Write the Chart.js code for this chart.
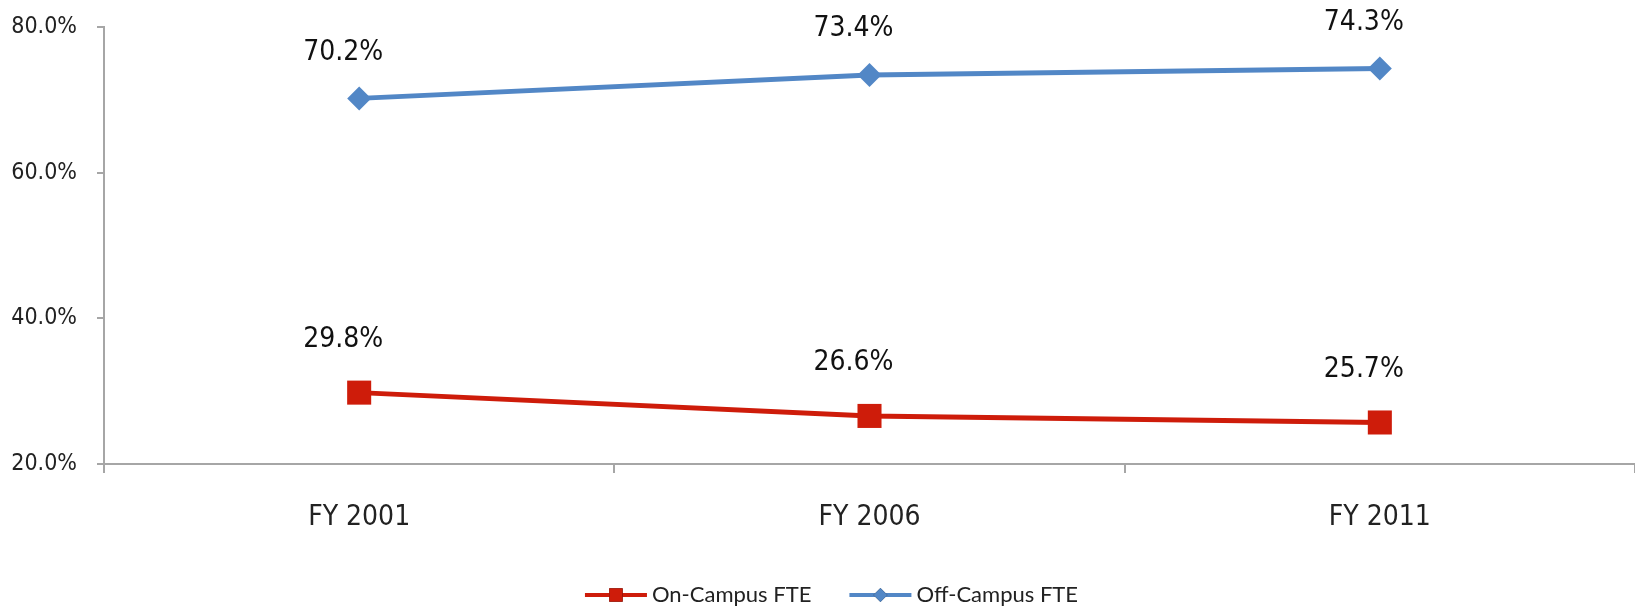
<!DOCTYPE html>
<html>
<head>
<meta charset="utf-8">
<script src="https://cdn.jsdelivr.net/npm/chart.js@4/dist/chart.umd.min.js"></script>
<style>
  html, body { margin: 0; padding: 0; background: #ffffff; }
  #wrap { width: 1635px; height: 609px; }
</style>
</head>
<body>
<div id="wrap"><canvas id="c" width="1635" height="609"></canvas></div>
<script>
// ---- data ----
const categories = ['FY 2001', 'FY 2006', 'FY 2011'];
const onCampus = [29.8, 26.6, 25.7];
const offCampus = [70.2, 73.4, 74.3];
const seriesNames = ['On-Campus FTE', 'Off-Campus FTE'];
const yTicks = [20, 40, 60, 80];

// ---- styles ----
const RED = '#CE1C0A';
const BLUE = '#5287C6';
const AXIS = '#A6A6A6';
const NARROW = "'Liberation Sans Narrow', 'Arial Narrow', 'DejaVu Sans Condensed', 'Open Sans', sans-serif";
const LEGEND_FONT = "Lato, 'Open Sans', sans-serif";

const dataLabelPlugin = {
  id: 'dataLabels',
  afterDatasetsDraw(chart) {
    const ctx = chart.ctx;
    ctx.save();
    ctx.font = '28px ' + NARROW;
    ctx.fillStyle = '#111111';
    ctx.textAlign = 'center';
    ctx.textBaseline = 'middle';
    chart.data.datasets.forEach((ds, i) => {
      const meta = chart.getDatasetMeta(i);
      const dy = ds.labelLift;
      meta.data.forEach((pt, j) => {
        const v = ds.data[j];
        ctx.fillText(v.toFixed(1) + '%', pt.x - 16, pt.y - dy);
      });
    });
    ctx.restore();
  }
};

const legendPlugin = {
  id: 'customLegend',
  afterDraw(chart) {
    const ctx = chart.ctx;
    ctx.save();
    ctx.font = '22px ' + LEGEND_FONT;
    ctx.textBaseline = 'middle';
    const lineW = 62, gapText = 5, gapItem = 38;
    const items = chart.data.datasets.map(ds => ({
      ds, tw: ctx.measureText(ds.label).width
    }));
    let total = 0;
    items.forEach((it, i) => { total += lineW + gapText + it.tw + (i < items.length - 1 ? gapItem : 0); });
    let x = chart.width / 2 + 14 - total / 2;
    const y = 595;
    items.forEach(it => {
      const ds = it.ds;
      ctx.strokeStyle = ds.borderColor;
      ctx.lineWidth = 4;
      ctx.beginPath();
      ctx.moveTo(x, y);
      ctx.lineTo(x + lineW, y);
      ctx.stroke();
      Chart.helpers.drawPoint(ctx, {
        pointStyle: ds.pointStyle,
        radius: ds.pointStyle === 'rect' ? 9.5 : 7,
        borderWidth: 0,
        rotation: 0
      }, x + lineW / 2, y);
      ctx.fillStyle = ds.borderColor;
      ctx.fill();
      ctx.fillStyle = '#222222';
      ctx.fillText(ds.label, x + lineW + gapText, y);
      x += lineW + gapText + it.tw + gapItem;
    });
    ctx.restore();
  }
};

new Chart(document.getElementById('c'), {
  type: 'line',
  data: {
    labels: categories,
    datasets: [
      {
        label: seriesNames[0],
        data: onCampus,
        borderColor: RED,
        backgroundColor: RED,
        borderWidth: 5,
        pointStyle: 'rect',
        pointRadius: 17,
        pointBorderWidth: 0,
        pointBackgroundColor: RED,
        labelLift: 53,
        tension: 0
      },
      {
        label: seriesNames[1],
        data: offCampus,
        borderColor: BLUE,
        backgroundColor: BLUE,
        borderWidth: 5,
        pointStyle: 'rectRot',
        pointRadius: 12,
        pointBorderWidth: 0,
        pointBackgroundColor: BLUE,
        labelLift: 46,
        tension: 0
      }
    ]
  },
  options: {
    responsive: false,
    animation: false,
    layout: { autoPadding: false, padding: { top: 27, right: -8, left: 0, bottom: 0 } },
    plugins: {
      legend: { display: false },
      tooltip: { enabled: false }
    },
    scales: {
      x: {
        type: 'category',
        offset: true,
        grid: {
          offset: true,
          drawOnChartArea: false,
          drawTicks: true,
          tickLength: 9,
          color: AXIS,
          lineWidth: 2
        },
        border: { color: AXIS, width: 2 },
        ticks: {
          padding: 28,
          color: '#222222',
          font: { family: NARROW, size: 28 }
        },
        afterFit(scale) {
          scale.height = 145;
          scale.paddingLeft = 0;
          scale.paddingRight = 0;
        }
      },
      y: {
        min: yTicks[0],
        max: yTicks[yTicks.length - 1],
        afterBuildTicks(scale) { scale.ticks = yTicks.map(v => ({ value: v })); },
        grid: {
          drawOnChartArea: false,
          drawTicks: true,
          tickLength: 7,
          color: AXIS,
          lineWidth: 2
        },
        border: { color: AXIS, width: 2 },
        ticks: {
          padding: 20,
          color: '#222222',
          font: { family: NARROW, size: 23 },
          callback: v => Number(v).toFixed(1) + '%'
        },
        afterFit(scale) {
          scale.width = 104;
          scale.paddingTop = 0;
          scale.paddingBottom = 0;
        }
      }
    }
  },
  plugins: [dataLabelPlugin, legendPlugin]
});
</script>
</body>
</html>
